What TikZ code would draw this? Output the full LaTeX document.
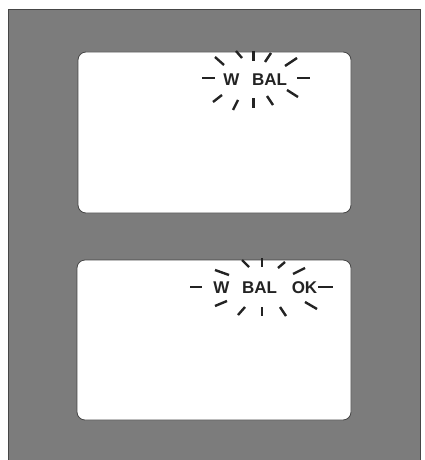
\documentclass[tikz,border=0pt]{standalone}
\usepackage{fontspec}
\setmainfont{Liberation Sans}
\definecolor{panelgray}{RGB}{124,124,124}
\definecolor{screenedge}{RGB}{70,70,70}
\definecolor{inkblack}{RGB}{35,35,35}
\begin{document}
\begin{tikzpicture}[x=1pt,y=-1pt,
  screen/.style={fill=white,draw=screenedge,line width=0.8pt,rounded corners=8pt},
  lbl/.style={inner sep=0pt,text=inkblack,font=\fontsize{17}{17}\selectfont\bfseries},
  ray/.style={draw=inkblack,line width=2.4pt}]
\useasboundingbox (0,0) rectangle (424,460);
\fill[white] (0,0) rectangle (424,460);
\fill[panelgray] (8,9) rectangle (420,460);
\draw[screenedge,line width=0.6pt] (8,460) -- (8,9) -- (420,9) -- (420,460);
% screens
\path[screen] (78,52) rectangle (351,213);
\path[screen] (77,260) rectangle (351,420);
\node (s1) at (214.5,132.5) {};
\node (s2) at (214,340) {};
% screen 1 text
\node[lbl] (w1) at (231.5,80) {W};
\node[lbl] (bal1) at (269.5,80) {BAL};
% screen 1 rays
\path[ray] (215,57)--(224,65);
\path[ray] (236,51)--(242,58);
\path[ray] (253.5,51)--(253.5,61);
\path[ray] (271,53)--(265,62);
\path[ray] (297,58)--(285,66);
\path[ray] (202,78)--(215,78);
\path[ray] (297,78)--(310,78);
\path[ray] (222,95)--(213,102);
\path[ray] (238,100)--(233,110);
\path[ray] (253.5,98)--(253.5,108);
\path[ray] (267,96)--(273,105);
\path[ray] (287,90)--(298,97);
% screen 2 text
\node[lbl] (w2) at (221.5,288) {W};
\node[lbl] (bal2) at (259.5,288) {BAL};
\node[lbl] (ok2) at (304.5,288) {OK};
% screen 2 rays
\path[ray] (215,270)--(229,275);
\path[ray] (242,260)--(249,267);
\path[ray] (262,258)--(262,267);
\path[ray] (285,262)--(278,268);
\path[ray] (305,268)--(293,274);
\path[ray] (190,287)--(202,287);
\path[ray] (318,287)--(333,287);
\path[ray] (227,301)--(215,306);
\path[ray] (245,307)--(238,315);
\path[ray] (262,307)--(262,316);
\path[ray] (280,307)--(286,316);
\path[ray] (305,302)--(317,309);
\end{tikzpicture}
\end{document}
